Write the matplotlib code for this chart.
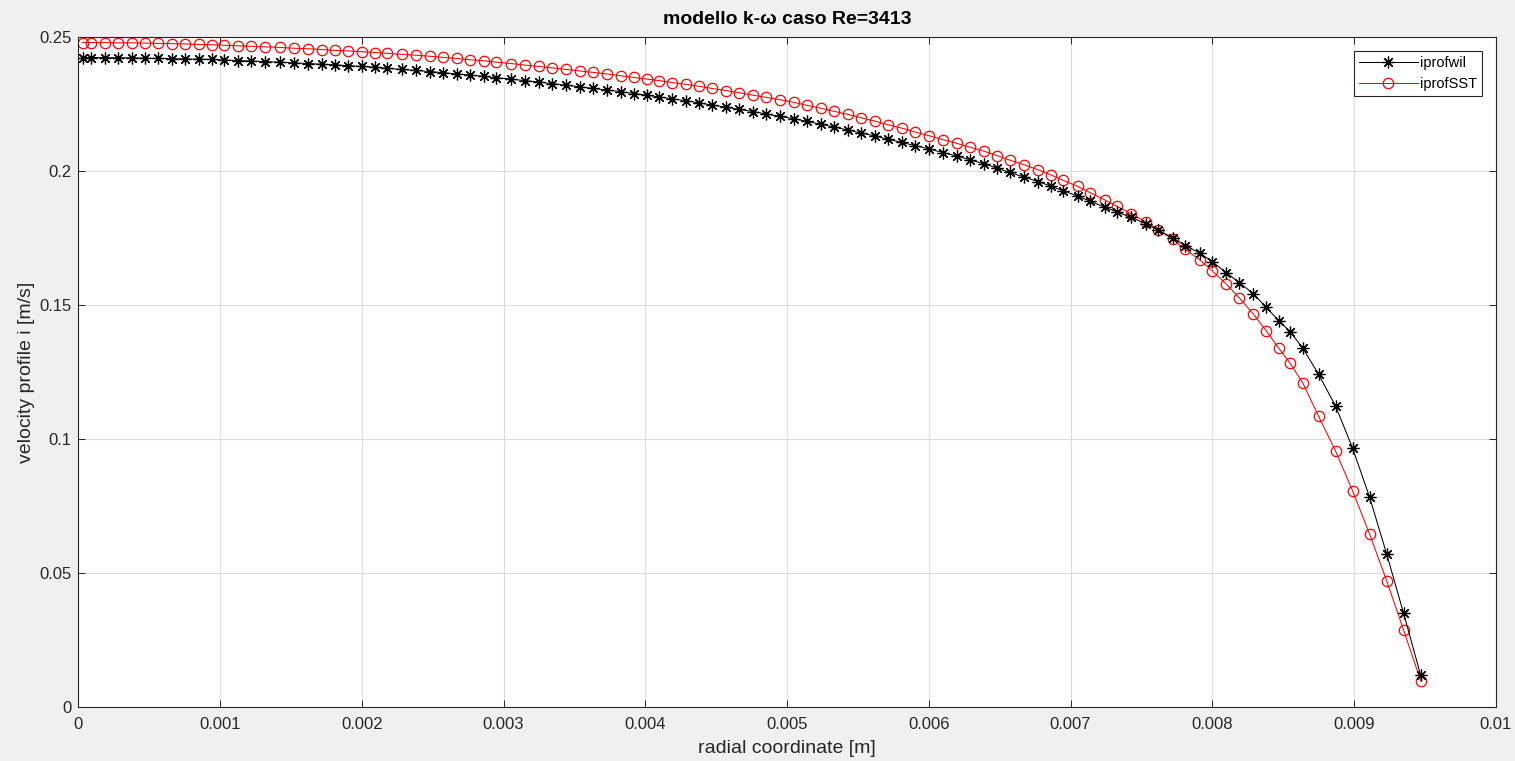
import matplotlib
matplotlib.use("Agg")
import matplotlib.pyplot as plt

plt.rcParams["font.family"] = ["Liberation Sans", "DejaVu Sans"]

# radial positions of the mesh cells [m]
radial = [
    0.00003, 0.00009, 0.00019, 0.00028, 0.00038, 0.00047, 0.00056, 0.00066, 0.00075, 0.00085,
    0.00094, 0.00103, 0.00113, 0.00122, 0.00132, 0.00142, 0.00152, 0.00162, 0.00172, 0.00181,
    0.00190, 0.00200, 0.00209, 0.00218, 0.00228, 0.00238, 0.00248, 0.00257, 0.00267, 0.00276,
    0.00286, 0.00295, 0.00305, 0.00315, 0.00325, 0.00334, 0.00344, 0.00354, 0.00363, 0.00373,
    0.00383, 0.00392, 0.00401, 0.00410, 0.00419, 0.00429, 0.00438, 0.00447, 0.00457, 0.00466,
    0.00476, 0.00485, 0.00495, 0.00505, 0.00514, 0.00524, 0.00533, 0.00543, 0.00552, 0.00562,
    0.00571, 0.00581, 0.00590, 0.00600, 0.00610, 0.00620, 0.00629, 0.00639, 0.00648, 0.00657,
    0.00667, 0.00677, 0.00686, 0.00695, 0.00705, 0.00714, 0.00724, 0.00733, 0.00743, 0.00753,
    0.00762, 0.00772, 0.00781, 0.00791, 0.00800, 0.00810, 0.00819, 0.00829, 0.00838, 0.00847,
    0.00855, 0.00864, 0.00875, 0.00887, 0.00899, 0.00911, 0.00923, 0.00935, 0.00947,
]

# velocity profile, wilcox k-omega [m/s]
iprofwil = [
    0.2422, 0.2422, 0.2422, 0.2421, 0.2421, 0.2420, 0.2419, 0.2418, 0.2417, 0.2416,
    0.2415, 0.2413, 0.2411, 0.2409, 0.2407, 0.2405, 0.2402, 0.2400, 0.2397, 0.2395,
    0.2392, 0.2389, 0.2386, 0.2382, 0.2378, 0.2374, 0.2370, 0.2366, 0.2361, 0.2357,
    0.2352, 0.2347, 0.2342, 0.2336, 0.2331, 0.2325, 0.2319, 0.2313, 0.2307, 0.2301,
    0.2295, 0.2288, 0.2282, 0.2275, 0.2268, 0.2261, 0.2253, 0.2245, 0.2237, 0.2229,
    0.2221, 0.2212, 0.2203, 0.2194, 0.2184, 0.2174, 0.2163, 0.2152, 0.2141, 0.2130,
    0.2118, 0.2106, 0.2094, 0.2082, 0.2068, 0.2055, 0.2041, 0.2026, 0.2010, 0.1994,
    0.1977, 0.1960, 0.1943, 0.1925, 0.1906, 0.1886, 0.1865, 0.1846, 0.1826, 0.1803,
    0.1778, 0.1750, 0.1721, 0.1694, 0.1661, 0.1620, 0.1583, 0.1542, 0.1491, 0.1441,
    0.1400, 0.1338, 0.1241, 0.1123, 0.0966, 0.0783, 0.0572, 0.0350, 0.0120,
]

# velocity profile, SST k-omega [m/s]
iprofSST = [
    0.2478, 0.2478, 0.2478, 0.2477, 0.2477, 0.2476, 0.2475, 0.2474, 0.2473, 0.2471,
    0.2470, 0.2468, 0.2466, 0.2464, 0.2462, 0.2460, 0.2457, 0.2455, 0.2452, 0.2449,
    0.2447, 0.2444, 0.2441, 0.2438, 0.2434, 0.2431, 0.2427, 0.2423, 0.2419, 0.2414,
    0.2410, 0.2405, 0.2400, 0.2394, 0.2389, 0.2384, 0.2378, 0.2372, 0.2367, 0.2361,
    0.2354, 0.2348, 0.2342, 0.2336, 0.2329, 0.2322, 0.2315, 0.2307, 0.2299, 0.2291,
    0.2282, 0.2274, 0.2265, 0.2255, 0.2244, 0.2233, 0.2222, 0.2210, 0.2198, 0.2185,
    0.2172, 0.2159, 0.2145, 0.2131, 0.2116, 0.2102, 0.2088, 0.2073, 0.2057, 0.2040,
    0.2023, 0.2004, 0.1985, 0.1964, 0.1942, 0.1918, 0.1892, 0.1867, 0.1840, 0.1810,
    0.1779, 0.1745, 0.1707, 0.1669, 0.1627, 0.1577, 0.1527, 0.1466, 0.1404, 0.1338,
    0.1282, 0.1208, 0.1085, 0.0955, 0.0807, 0.0646, 0.0472, 0.0288, 0.0099,
]

x_ticks = [0, 0.001, 0.002, 0.003, 0.004, 0.005, 0.006, 0.007, 0.008, 0.009, 0.01]
x_tick_labels = ["0", "0.001", "0.002", "0.003", "0.004", "0.005", "0.006", "0.007", "0.008", "0.009", "0.01"]
y_ticks = [0, 0.05, 0.1, 0.15, 0.2, 0.25]
y_tick_labels = ["0", "0.05", "0.1", "0.15", "0.2", "0.25"]

dark = "#262626"

fig = plt.figure(figsize=(15.15, 7.61), dpi=100, facecolor="#f0f0f0")
ax = fig.add_axes([0.0517, 0.0706, 0.9356, 0.8812])
ax.set_facecolor("white")

asterisk = (8, 2, 0)
ax.plot(radial, iprofwil, color="black", linewidth=0.75, marker=asterisk,
        markersize=8.5, markeredgewidth=0.9, label="iprofwil", zorder=3)
ax.plot(radial, iprofSST, color="#ff0000", linewidth=0.75, marker="o",
        markersize=7.5, markerfacecolor="none", markeredgewidth=0.9,
        label="iprofSST", zorder=2)

ax.set_xlim(0, 0.01)
ax.set_ylim(0, 0.25)
ax.set_xticks(x_ticks)
ax.set_xticklabels(x_tick_labels)
ax.set_yticks(y_ticks)
ax.set_yticklabels(y_tick_labels)
ax.tick_params(direction="in", length=5, width=0.7, colors=dark, labelsize=12,
               top=True, right=True, pad=5)
ax.tick_params(axis="x", pad=7)
ax.grid(True, color="#dcdcdc", linewidth=0.8)
ax.set_axisbelow(True)
for spine in ax.spines.values():
    spine.set_color(dark)
    spine.set_linewidth(0.8)

ax.set_xlabel("radial coordinate [m]", fontsize=14, color=dark, labelpad=6)
ax.set_ylabel("velocity profile i [m/s]", fontsize=14, color=dark, labelpad=3)
ax.set_title("modello k-ω caso Re=3413", fontsize=14, fontweight="bold", color="black", pad=9)

leg = ax.legend(loc="upper right", bbox_to_anchor=(0.9903, 0.979), borderaxespad=0,
                fancybox=False, framealpha=1, edgecolor=dark, fontsize=10.5,
                handlelength=4.0, handletextpad=0.15, borderpad=0.35, labelspacing=0.5)
leg.get_frame().set_linewidth(0.8)

fig.savefig("out.png", dpi=100, facecolor=fig.get_facecolor())
